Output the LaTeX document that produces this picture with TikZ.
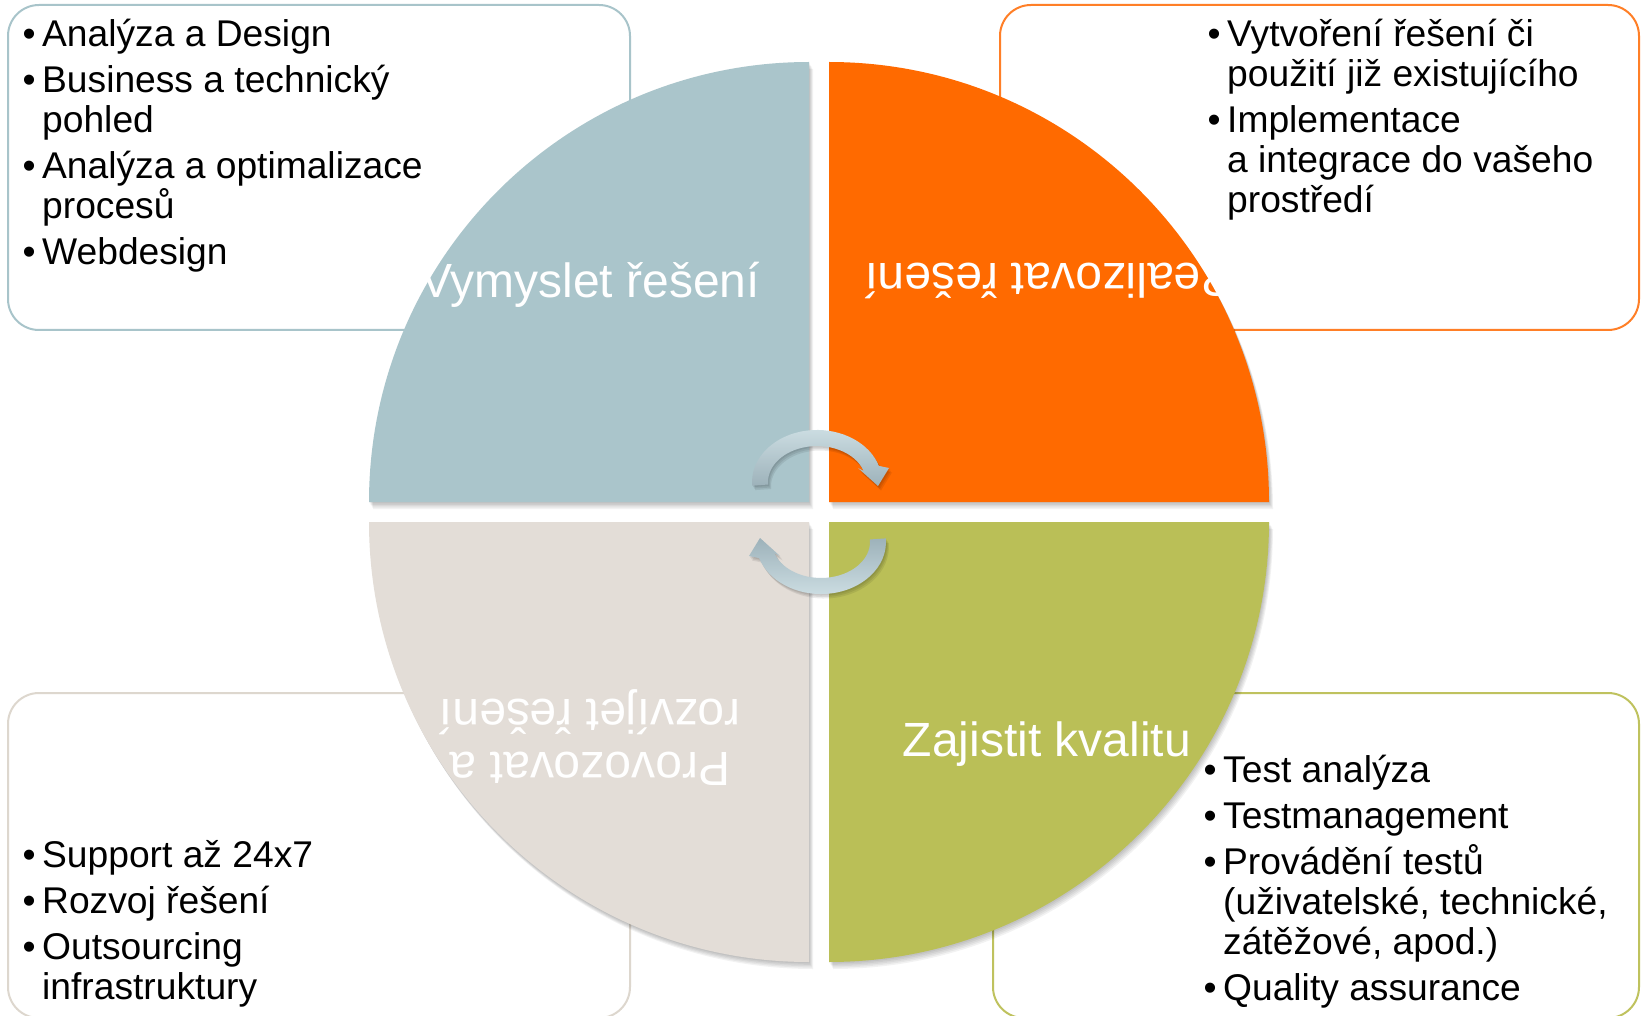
\documentclass[tikz,border=0pt]{standalone}
\usepackage{fontspec}
\setmainfont{Liberation Sans}
\definecolor{qblue}{HTML}{AAC5CB}
\definecolor{qorange}{HTML}{FF6A00}
\definecolor{qbeige}{HTML}{E3DDD7}
\definecolor{qgreen}{HTML}{BABF57}
\definecolor{bblue}{HTML}{A8C4CA}
\definecolor{borange}{HTML}{FF7F27}
\definecolor{bbeige}{HTML}{DDD7CE}
\definecolor{bgreen}{HTML}{BFC25E}
\definecolor{arlight}{HTML}{CCDDE2}
\definecolor{ardark}{HTML}{9DB2BA}
\newcommand{\bu}{\llap{•\hspace{6.5pt}}}
\newcommand{\quadTL}{(809,-502) -- (369,-502) arc[start angle=180, end angle=90, radius=440] -- cycle}
\newcommand{\quadTR}{(829,-502) -- (829,-62) arc[start angle=90, end angle=0, radius=440] -- cycle}
\newcommand{\quadBL}{(809,-522) -- (809,-962) arc[start angle=270, end angle=180, radius=440] -- cycle}
\newcommand{\quadBR}{(829,-522) -- (1269,-522) arc[start angle=0, end angle=-90, radius=440] -- cycle}
\newcommand{\arrowtop}{(-64.8,-3.6) arc[start angle=184, end angle=18, x radius=65, y radius=52] -- (72,14) -- (61,-4) -- (41,14) -- (46.6,11.1) arc[start angle=18, end angle=184, x radius=49, y radius=36] -- cycle}
\newcommand{\arrowbot}{(64.8,3.6) arc[start angle=4, end angle=-162, x radius=65, y radius=52] -- (-72,-14) -- (-61,4) -- (-41,-14) -- (-46.6,-11.1) arc[start angle=-162, end angle=4, x radius=49, y radius=36] -- cycle}
\tikzset{
  infobox/.style={rounded corners=31pt, line width=2pt, fill=white},
  qlabel/.style={text=white, font=\fontsize{48}{52}\selectfont, anchor=base, inner sep=0pt},
  btext/.style={font=\fontsize{37.2}{40}\selectfont, anchor=base west, inner sep=0pt, text=black},
  qshadow/.style={fill=black, opacity=0.05},
}
\begin{document}
\begin{tikzpicture}[x=1pt,y=1pt]
\useasboundingbox (0,0) rectangle (1642,-1016);
\clip (0,0) rectangle (1642,-1016);
\fill[white] (0,0) rectangle (1642,-1016);
% boxes
\path[infobox, draw=bblue] (8,-5) rectangle (630,-330);
\path[infobox, draw=borange] (1000,-5) rectangle (1639,-330);
\path[infobox, draw=bbeige] (8,-693) rectangle (630,-1018);
\path[infobox, draw=bgreen] (993,-693) rectangle (1639,-1018);
% box texts
\node[btext] (tl1) at (42,-47) {\bu Analýza a Design};
\node[btext] (tl2) at (42,-93) {\bu Business a technický};
\node[btext] (tl3) at (42,-133) {pohled};
\node[btext] (tl4) at (42,-179) {\bu Analýza a optimalizace};
\node[btext] (tl5) at (42,-219) {procesů};
\node[btext] (tl6) at (42,-265) {\bu Webdesign};
\node[btext] (tr1) at (1227,-47) {\bu Vytvoření řešení či};
\node[btext] (tr2) at (1227,-87) {použití již existujícího};
\node[btext] (tr3) at (1227,-133) {\bu Implementace};
\node[btext] (tr4) at (1227,-173) {a integrace do vašeho};
\node[btext] (tr5) at (1227,-213) {prostředí};
\node[btext] (bl1) at (42,-867) {\bu Support až 24x7};
\node[btext] (bl2) at (42,-913) {\bu Rozvoj řešení};
\node[btext] (bl3) at (42,-959) {\bu Outsourcing};
\node[btext] (bl4) at (42,-999) {infrastruktury};
\node[btext] (br1) at (1223,-782) {\bu Test analýza};
\node[btext] (br2) at (1223,-828) {\bu Testmanagement};
\node[btext] (br3) at (1223,-874) {\bu Provádění testů};
\node[btext] (br4) at (1223,-914) {(uživatelské, technické,};
\node[btext] (br5) at (1223,-954) {zátěžové, apod.)};
\node[btext] (br6) at (1223,-1000) {\bu Quality assurance};
% quadrant shadows
\foreach \s in {1,2,3,4,5} {
  \fill[qshadow, shift={(\s*0.8,-\s*1.4)}] \quadTL;
  \fill[qshadow, shift={(\s*0.8,-\s*1.4)}] \quadTR;
  \fill[qshadow, shift={(\s*0.8,-\s*1.4)}] \quadBL;
  \fill[qshadow, shift={(\s*0.8,-\s*1.4)}] \quadBR;
}
% quadrants
\fill[qblue] \quadTL;
\fill[qorange] \quadTR;
\fill[qbeige] \quadBL;
\fill[qgreen] \quadBR;
% quadrant labels
\node[qlabel] (lab1) at (590,-298) {Vymyslet řešení};
\node[qlabel, rotate=180] (lab2) at (1050,-264) {Realizovat řešení};
\node[qlabel, rotate=180] (lab3a) at (590,-752) {Provozovat a};
\node[qlabel, rotate=180] (lab3b) at (590,-699) {rozvíjet řešení};
\node[qlabel] (lab4) at (1047,-756) {Zajistit kvalitu};
% arrows
\begin{scope}[shift={(817,-482)}]
  \foreach \s in {1,2,3} {\fill[black, opacity=0.08, shift={(\s*1,-\s*1.5)}] \arrowtop;}
  \shade[top color=arlight, bottom color=ardark] \arrowtop;
\end{scope}
\begin{scope}[shift={(821,-542)}]
  \foreach \s in {1,2,3} {\fill[black, opacity=0.08, shift={(\s*1,-\s*1.5)}] \arrowbot;}
  \shade[top color=ardark, bottom color=arlight] \arrowbot;
\end{scope}
\end{tikzpicture}
\end{document}
